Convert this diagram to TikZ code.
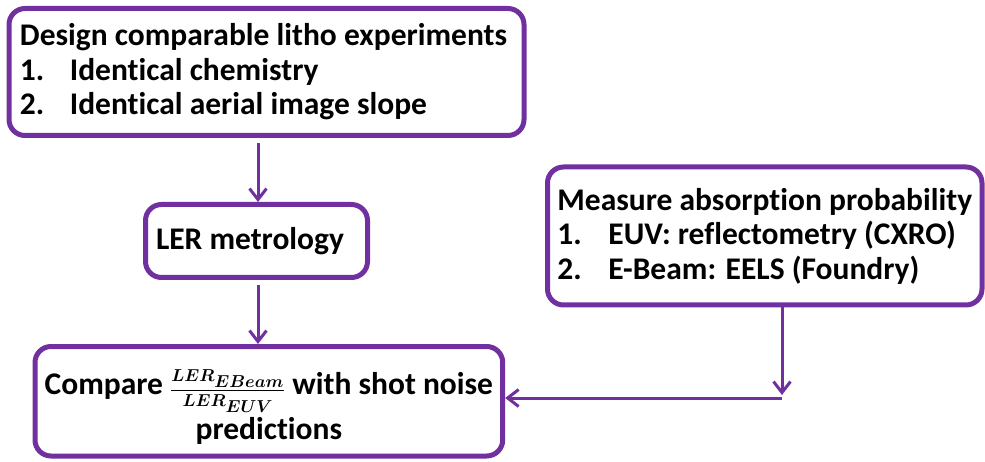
\documentclass[tikz,border=0pt]{standalone}
\usepackage{fontspec}
\setmainfont{Carlito}[Ligatures=NoCommon]
\usepackage{amsmath}
\usepackage{bm}
\usetikzlibrary{arrows.meta}
\definecolor{boxpurple}{HTML}{7030A0}
\tikzset{
  flowbox/.style={draw=boxpurple, line width=5pt, rounded corners=16pt, fill=white,
    inner sep=0pt, font=\fontsize{31.5}{34.5}\selectfont\bfseries},
  flowarrow/.style={draw=boxpurple, line width=3pt,
    -{Straight Barb[length=11pt,width=17pt,line width=3pt]}},
}
\newcommand{\itemlab}[2]{\makebox[#1][l]{#2}}
\newcommand{\subsz}[1]{\text{\fontsize{16}{16}\selectfont$\bm{#1}$}}
\begin{document}
\begin{tikzpicture}[x=1pt,y=-1pt]
\useasboundingbox (0,0) rectangle (985,462);
\node[flowbox, minimum width=515pt, minimum height=127pt, align=left] (design) at (266.5,72)
  {Design comparable litho experiments\hspace*{6pt}\\
   \itemlab{50pt}{1.}Identical chemistry\\
   \itemlab{50pt}{2.}Identical aerial image slope};
\node[flowbox, minimum width=222pt, minimum height=73pt] (ler) at (256.5,241) {LER metrology\hspace*{13pt}};
\node[flowbox, minimum width=434.5pt, minimum height=138pt, align=left] (measure) at (764.75,236)
  {Measure absorption probability\\
   \itemlab{51pt}{1.}EUV: reflectometry (CXRO)\\
   \itemlab{51pt}{2.}E-Beam: EELS (Foundry)};
\node[flowbox, minimum width=467.7pt, minimum height=109.5pt, align=center] (compare) at (268.85,401.25)
  {\rule{0pt}{36pt}Compare {\fontsize{18.5}{18.5}\selectfont$\dfrac{\bm{LER}_{\subsz{EBeam}}}{\bm{LER}_{\subsz{EUV}}}$} with shot noise\\[4pt]
   predictions};
\coordinate (join) at (782,398);
\draw[flowarrow, shorten <=5pt] (design.south -| 258,0) -- (258,202);
\draw[flowarrow, shorten <=5pt] (ler.south -| 258,0) -- (258,344);
\draw[flowarrow, shorten >=3pt] (measure.south -| join) -- (join);
\draw[flowarrow] (join) -- (compare.east |- join);
\end{tikzpicture}
\end{document}
